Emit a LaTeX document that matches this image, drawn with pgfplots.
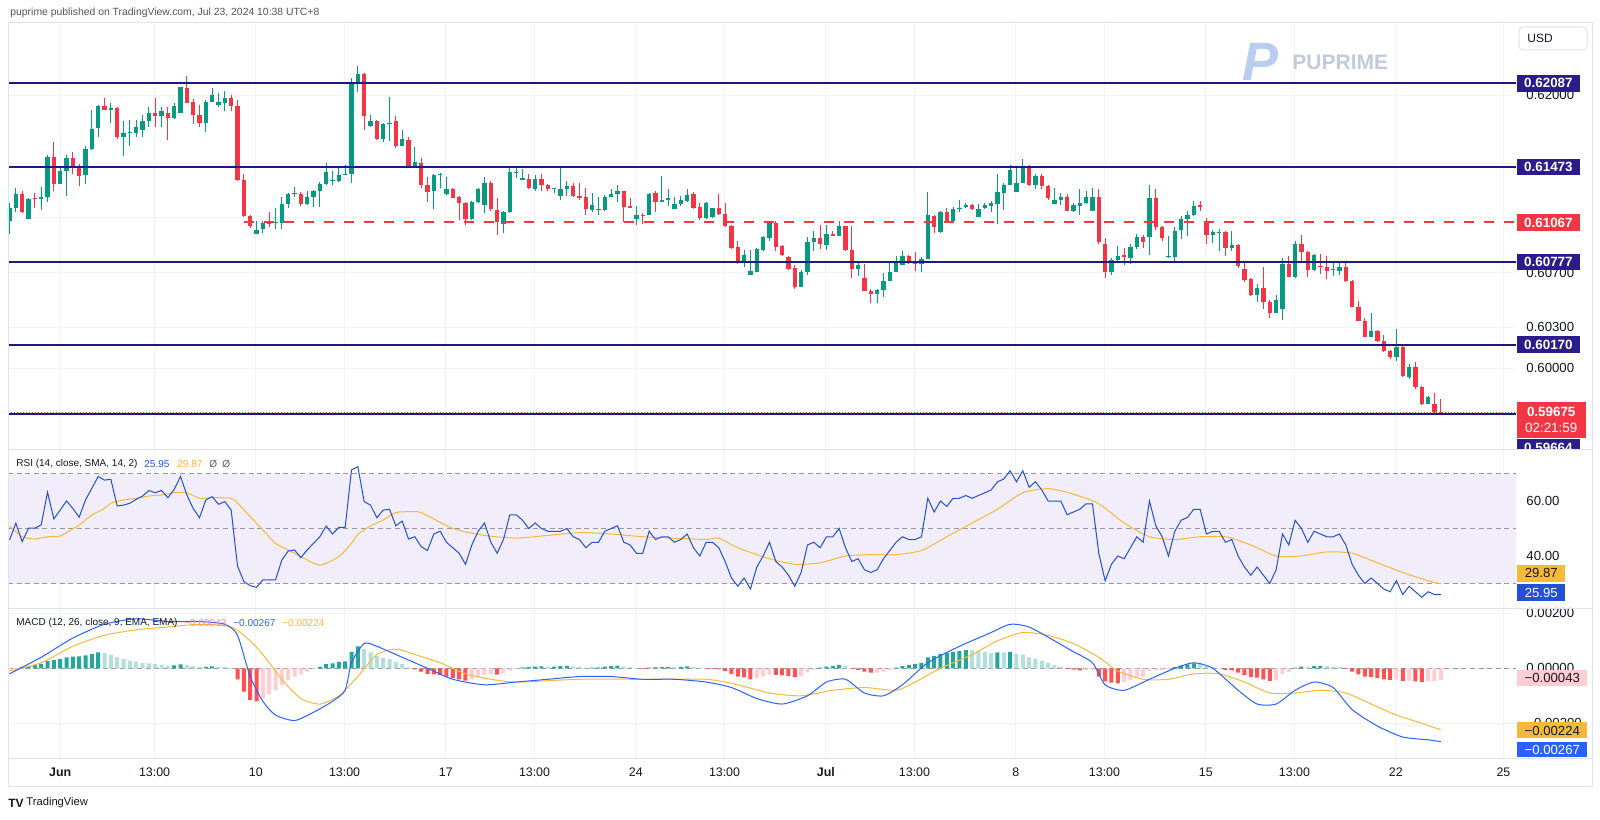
\documentclass[border=0pt]{standalone}
\usepackage{fontspec}
\setmainfont{Liberation Sans}
\usepackage{pgfplots}
\usepackage{pgfplotstable}
\pgfplotsset{compat=1.18}

\definecolor{up}{HTML}{089981}
\definecolor{dn}{HTML}{F23645}
\definecolor{lvl}{HTML}{1C1A7A}
\definecolor{lvlbox}{HTML}{2B1C8C}
\definecolor{gridc}{HTML}{F0F3FA}
\definecolor{sepc}{HTML}{E0E3EB}
\definecolor{txt}{HTML}{131722}
\definecolor{hdr}{HTML}{555555}
\definecolor{band}{HTML}{F1EDFA}
\definecolor{dashc}{HTML}{9598A1}
\definecolor{rsic}{HTML}{2350D6}
\definecolor{mac}{HTML}{2962FF}
\definecolor{sig}{HTML}{F9B938}
\definecolor{hup}{HTML}{26A69A}
\definecolor{hupl}{HTML}{B2DFDB}
\definecolor{hdn}{HTML}{FF5252}
\definecolor{hdnl}{HTML}{FFCDD2}
\definecolor{wmark}{HTML}{C3CAD9}
\definecolor{wicon}{HTML}{B9CDF0}

\newcommand\fs[1]{\fontsize{#1}{#1}\selectfont}

% 4-hour candles, index 0 = first candle on the left
\pgfplotstableread{
i o h l c
0 0.61076 0.61207 0.60984 0.61170
1 0.61170 0.61319 0.61140 0.61276
2 0.61276 0.61294 0.61133 0.61140
3 0.61090 0.61249 0.61090 0.61239
4 0.61244 0.61286 0.61170 0.61239
5 0.61239 0.61324 0.61160 0.61257
6 0.61257 0.61562 0.61219 0.61549
7 0.61549 0.61658 0.61299 0.61348
8 0.61348 0.61475 0.61348 0.61443
9 0.61443 0.61559 0.61264 0.61537
10 0.61537 0.61586 0.61425 0.61467
11 0.61477 0.61492 0.61331 0.61408
12 0.61413 0.61629 0.61348 0.61604
13 0.61604 0.61889 0.61596 0.61753
14 0.61758 0.61931 0.61691 0.61921
15 0.61921 0.61981 0.61889 0.61894
16 0.61894 0.61944 0.61795 0.61909
17 0.61909 0.61914 0.61676 0.61696
18 0.61696 0.61810 0.61554 0.61720
19 0.61720 0.61815 0.61629 0.61723
20 0.61723 0.61815 0.61696 0.61765
21 0.61748 0.61852 0.61696 0.61810
22 0.61807 0.61914 0.61765 0.61869
23 0.61869 0.61981 0.61765 0.61847
24 0.61847 0.61914 0.61765 0.61884
25 0.61872 0.61914 0.61671 0.61834
26 0.61834 0.61944 0.61827 0.61921
27 0.61872 0.62063 0.61872 0.62058
28 0.62050 0.62142 0.61939 0.61946
29 0.61949 0.61973 0.61785 0.61854
30 0.61857 0.61926 0.61770 0.61795
31 0.61795 0.61963 0.61728 0.61953
32 0.61951 0.62055 0.61951 0.62001
33 0.61926 0.62018 0.61914 0.61951
34 0.61944 0.62030 0.61884 0.61978
35 0.61978 0.62001 0.61884 0.61921
36 0.61921 0.61963 0.61368 0.61381
37 0.61381 0.61425 0.61108 0.61115
38 0.61115 0.61125 0.61028 0.61041
39 0.60979 0.61076 0.60979 0.61009
40 0.61021 0.61076 0.60991 0.61066
41 0.61066 0.61145 0.61033 0.61061
42 0.61061 0.61170 0.61021 0.61066
43 0.61066 0.61257 0.61021 0.61200
44 0.61200 0.61281 0.61170 0.61276
45 0.61274 0.61324 0.61257 0.61276
46 0.61276 0.61289 0.61190 0.61200
47 0.61200 0.61294 0.61195 0.61252
48 0.61252 0.61306 0.61177 0.61299
49 0.61299 0.61363 0.61177 0.61348
50 0.61348 0.61500 0.61338 0.61435
51 0.61368 0.61443 0.61338 0.61373
52 0.61368 0.61472 0.61363 0.61418
53 0.61418 0.61487 0.61418 0.61425
54 0.61425 0.62125 0.61356 0.62092
55 0.62087 0.62211 0.62020 0.62154
56 0.62154 0.62162 0.61748 0.61847
57 0.61777 0.61852 0.61765 0.61810
58 0.61810 0.61820 0.61673 0.61678
59 0.61678 0.61795 0.61653 0.61790
60 0.61790 0.61983 0.61666 0.61795
61 0.61807 0.61844 0.61616 0.61629
62 0.61629 0.61745 0.61624 0.61678
63 0.61673 0.61696 0.61475 0.61475
64 0.61475 0.61621 0.61472 0.61510
65 0.61505 0.61541 0.61321 0.61345
66 0.61341 0.61399 0.61216 0.61292
67 0.61301 0.61424 0.61162 0.61412
68 0.61412 0.61426 0.61321 0.61419
69 0.61272 0.61399 0.61267 0.61309
70 0.61309 0.61321 0.61243 0.61247
71 0.61252 0.61260 0.61083 0.61211
72 0.61211 0.61218 0.61051 0.61093
73 0.61093 0.61223 0.61088 0.61216
74 0.61216 0.61321 0.61211 0.61309
75 0.61198 0.61399 0.61137 0.61353
76 0.61358 0.61370 0.61149 0.61162
77 0.61157 0.61243 0.60973 0.61069
78 0.61056 0.61154 0.60990 0.61145
79 0.61145 0.61480 0.61137 0.61436
80 0.61431 0.61480 0.61394 0.61436
81 0.61377 0.61456 0.61375 0.61394
82 0.61382 0.61419 0.61309 0.61321
83 0.61309 0.61412 0.61301 0.61382
84 0.61382 0.61419 0.61301 0.61345
85 0.61345 0.61350 0.61301 0.61309
86 0.61309 0.61321 0.61284 0.61314
87 0.61260 0.61473 0.61235 0.61309
88 0.61309 0.61370 0.61260 0.61333
89 0.61333 0.61358 0.61252 0.61260
90 0.61260 0.61358 0.61235 0.61243
91 0.61255 0.61321 0.61120 0.61162
92 0.61157 0.61284 0.61145 0.61198
93 0.61162 0.61252 0.61120 0.61167
94 0.61157 0.61267 0.61149 0.61255
95 0.61255 0.61309 0.61252 0.61277
96 0.61272 0.61341 0.61218 0.61296
97 0.61296 0.61296 0.61071 0.61181
98 0.61186 0.61247 0.61174 0.61174
99 0.61093 0.61186 0.61051 0.61120
100 0.61125 0.61137 0.61056 0.61120
101 0.61120 0.61284 0.61120 0.61277
102 0.61282 0.61296 0.61142 0.61216
103 0.61216 0.61407 0.61216 0.61235
104 0.61235 0.61309 0.61186 0.61243
105 0.61167 0.61252 0.61162 0.61203
106 0.61203 0.61260 0.61191 0.61228
107 0.61223 0.61309 0.61216 0.61267
108 0.61272 0.61289 0.61169 0.61174
109 0.61179 0.61211 0.61088 0.61096
110 0.61096 0.61218 0.61093 0.61211
111 0.61105 0.61174 0.61100 0.61174
112 0.61174 0.61277 0.61125 0.61130
113 0.61130 0.61211 0.61032 0.61039
114 0.61039 0.61047 0.60875 0.60880
115 0.60885 0.60929 0.60762 0.60782
116 0.60787 0.60868 0.60738 0.60831
117 0.60684 0.60868 0.60684 0.60708
118 0.60704 0.60880 0.60701 0.60873
119 0.60868 0.60966 0.60860 0.60961
120 0.60953 0.61081 0.60934 0.61069
121 0.61064 0.61076 0.60855 0.60885
122 0.60892 0.60904 0.60819 0.60826
123 0.60811 0.60819 0.60721 0.60728
124 0.60733 0.60757 0.60581 0.60591
125 0.60593 0.60721 0.60593 0.60704
126 0.60704 0.60958 0.60684 0.60924
127 0.60922 0.61007 0.60855 0.60953
128 0.60953 0.61051 0.60875 0.60909
129 0.60900 0.61051 0.60868 0.60985
130 0.60985 0.61002 0.60966 0.60971
131 0.60971 0.61076 0.60966 0.61044
132 0.61039 0.61039 0.60855 0.60868
133 0.60868 0.61039 0.60659 0.60726
134 0.60726 0.60782 0.60672 0.60757
135 0.60659 0.60762 0.60561 0.60566
136 0.60561 0.60581 0.60476 0.60542
137 0.60542 0.60581 0.60476 0.60569
138 0.60569 0.60696 0.60517 0.60635
139 0.60635 0.60782 0.60635 0.60704
140 0.60704 0.60819 0.60704 0.60787
141 0.60757 0.60860 0.60753 0.60819
142 0.60819 0.60826 0.60762 0.60770
143 0.60770 0.60851 0.60708 0.60765
144 0.60765 0.60811 0.60704 0.60802
145 0.60802 0.61292 0.60799 0.61120
146 0.61115 0.61125 0.60990 0.61032
147 0.60998 0.61149 0.60990 0.61142
148 0.61142 0.61174 0.61071 0.61076
149 0.61076 0.61179 0.61071 0.61162
150 0.61169 0.61228 0.61142 0.61174
151 0.61179 0.61211 0.61174 0.61198
152 0.61198 0.61203 0.61159 0.61162
153 0.61105 0.61203 0.61105 0.61169
154 0.61174 0.61211 0.61162 0.61198
155 0.61191 0.61223 0.61145 0.61206
156 0.61203 0.61419 0.61059 0.61289
157 0.61284 0.61358 0.61157 0.61345
158 0.61345 0.61488 0.61345 0.61448
159 0.61292 0.61468 0.61292 0.61358
160 0.61358 0.61529 0.61358 0.61478
161 0.61478 0.61488 0.61333 0.61338
162 0.61338 0.61419 0.61309 0.61407
163 0.61407 0.61424 0.61309 0.61333
164 0.61333 0.61338 0.61235 0.61247
165 0.61203 0.61321 0.61203 0.61235
166 0.61233 0.61284 0.61198 0.61252
167 0.61252 0.61272 0.61149 0.61154
168 0.61154 0.61211 0.61145 0.61194
169 0.61191 0.61309 0.61125 0.61211
170 0.61211 0.61301 0.61203 0.61252
171 0.61154 0.61321 0.61154 0.61252
172 0.61252 0.61309 0.60909 0.60922
173 0.60912 0.60953 0.60659 0.60704
174 0.60704 0.60806 0.60679 0.60794
175 0.60794 0.60892 0.60782 0.60824
176 0.60826 0.60880 0.60757 0.60814
177 0.60806 0.60909 0.60762 0.60887
178 0.60885 0.60983 0.60873 0.60958
179 0.60958 0.60978 0.60880 0.60922
180 0.60958 0.61345 0.60831 0.61243
181 0.61247 0.61314 0.61015 0.61032
182 0.61034 0.61039 0.60929 0.60953
183 0.60814 0.60966 0.60806 0.60821
184 0.60811 0.61032 0.60770 0.61007
185 0.61010 0.61112 0.60949 0.61095
186 0.61095 0.61148 0.60971 0.61124
187 0.61119 0.61221 0.61112 0.61185
188 0.61192 0.61221 0.61153 0.61180
189 0.61070 0.61099 0.60910 0.60973
190 0.60973 0.61014 0.60917 0.60997
191 0.60992 0.61022 0.60856 0.60995
192 0.60995 0.61002 0.60820 0.60881
193 0.60876 0.61002 0.60861 0.60905
194 0.60900 0.60910 0.60735 0.60747
195 0.60723 0.60771 0.60633 0.60643
196 0.60650 0.60657 0.60528 0.60536
197 0.60536 0.60618 0.60487 0.60584
198 0.60584 0.60740 0.60431 0.60487
199 0.60487 0.60497 0.60370 0.60400
200 0.60400 0.60536 0.60400 0.60499
201 0.60436 0.60803 0.60351 0.60759
202 0.60759 0.60820 0.60667 0.60669
203 0.60667 0.60929 0.60657 0.60910
204 0.60910 0.60978 0.60771 0.60852
205 0.60852 0.60856 0.60667 0.60718
206 0.60718 0.60837 0.60711 0.60827
207 0.60747 0.60837 0.60686 0.60740
208 0.60742 0.60820 0.60650 0.60711
209 0.60716 0.60788 0.60674 0.60716
210 0.60711 0.60771 0.60682 0.60740
211 0.60740 0.60771 0.60633 0.60638
212 0.60638 0.60643 0.60448 0.60448
213 0.60448 0.60492 0.60341 0.60341
214 0.60341 0.60366 0.60230 0.60230
215 0.60230 0.60400 0.60225 0.60268
216 0.60268 0.60278 0.60188 0.60196
217 0.60196 0.60244 0.60115 0.60123
218 0.60127 0.60132 0.60067 0.60084
219 0.60079 0.60285 0.60055 0.60152
220 0.60152 0.60176 0.59933 0.59938
221 0.59933 0.60030 0.59921 0.60011
222 0.60006 0.60047 0.59848 0.59860
223 0.59860 0.59865 0.59727 0.59739
224 0.59739 0.59792 0.59734 0.59787
225 0.59734 0.59816 0.59673 0.59678
226 0.59678 0.59775 0.59666 0.59675
}\candles

\pgfplotstableread{
i r
0 45.8
1 51.9
2 45.2
3 50.1
4 50.1
5 51.3
6 63.2
7 53.5
8 56.7
9 60.0
10 57.3
11 54.1
12 60.4
13 64.6
14 68.9
15 67.6
16 67.9
17 58.2
18 58.5
19 59.2
20 60.6
21 61.8
22 63.8
23 63.0
24 63.8
25 61.2
26 64.2
27 68.9
28 62.2
29 57.3
30 53.9
31 60.4
32 61.6
33 58.8
34 59.8
35 56.7
36 36.4
37 30.7
38 29.2
39 28.6
40 31.3
41 31.3
42 31.3
43 38.5
44 41.8
45 42.2
46 39.4
47 42.2
48 44.6
49 47.0
50 50.9
51 48.0
52 50.4
53 50.4
54 71.3
55 72.5
56 59.8
57 58.5
58 53.9
59 56.7
60 57.0
61 51.0
62 52.7
63 46.2
64 47.0
65 43.4
66 42
67 48
68 49
69 45
70 43
71 41
72 37
73 44
74 49
75 52
76 45
77 41
78 46
79 55
80 55
81 53
82 50
83 52
84 50
85 49
86 49
87 49
88 50
89 47
90 46
91 43
92 45
93 45
94 49
95 50
96 51
97 45
98 44
99 41
100 41
101 49
102 46
103 47
104 47
105 45
106 46
107 48
108 43
109 40
110 45
111 45
112 43
113 38
114 32
115 29
116 32
117 28
118 36
119 40
120 45
121 38
122 36
123 33
124 29
125 34
126 44
127 45
128 43
129 47
130 47
131 50
132 43
133 38
134 39
135 35
136 34
137 35
138 39
139 42
140 45
141 47
142 46
143 46
144 47
145 61
146 56
147 60
148 58
149 61
150 61
151 62
152 61
153 62
154 63
155 64
156 67
157 68
158 71
159 67
160 71
161 65
162 67
163 64
164 60
165 60
166 60
167 55
168 56
169 57
170 59
171 59
172 41
173 31
174 37
175 40
176 39
177 43
178 47
179 45
180 60
181 51
182 47
183 40
184 49
185 53
186 54
187 57
188 57
189 48
190 49
191 49
192 45
193 46
194 40
195 36
196 33
197 36
198 33
199 30
200 35
201 48
202 44
203 53
204 50
205 45
206 49
207 48
208 47
209 47
210 48
211 44
212 37
213 33
214 30
215 32
216 30
217 28
218 27
219 31
220 26
221 29
222 27
223 25
224 27
225 26
226 25.95
}\rsi

\pgfplotstableread{
i m
0 50.9
2 47.0
4 46.2
6 47.0
8 47.3
11 51.3
13 54.9
15 57.3
16 59.2
18 60.4
20 61.0
22 61.8
24 62.2
26 63.0
28 63.0
30 61.0
32 61.2
35 61.0
36 59.2
38 54.3
40 49.5
42 44.6
44 42.2
46 39.8
49 36.7
52 39.8
54 44.6
55 47.9
57 50.9
59 53.1
61 55.8
63 56.1
65 55.8
70 50
75 47.5
80 46.5
85 47.5
90 48.5
95 48
100 47
105 46.5
110 46
112 46.5
115 43
120 39
124 37
128 37.5
132 40
136 40.5
140 40.5
144 42
148 47
152 52
156 57
160 63
164 64.5
168 62.5
172 59
176 52
180 47
184 46
188 47
192 47
196 44
200 40
204 40
208 41.5
212 41
216 37.5
220 34
224 31
226 29.87
}\rsima

\pgfplotstableread{
i m
0 -0.0002
5 0.0004
10 0.0011
15 0.0016
20 0.0018
25 0.0017
30 0.0017
34 0.0016
36 0.0012
38 -0.0003
40 -0.0012
42 -0.0017
45 -0.0019
48 -0.0016
51 -0.0012
53 -0.0008
54 0.0002
56 0.0009
58 0.0008
62 0.0004
66 0.0000
70 -0.0004
75 -0.0006
80 -0.0005
85 -0.0004
90 -0.0003
95 -0.0003
100 -0.0004
105 -0.0004
110 -0.0005
114 -0.0007
118 -0.0011
122 -0.0013
126 -0.0010
129 -0.0005
132 -0.0004
135 -0.0009
138 -0.0010
141 -0.0006
145 0.0002
150 0.0008
155 0.0013
158 0.0016
161 0.0015
165 0.0010
168 0.0006
171 0.0002
173 -0.0006
176 -0.0008
180 -0.0004
184 0.0000
187 0.0002
190 0.0000
194 -0.0008
197 -0.0013
200 -0.0013
203 -0.0008
206 -0.0005
209 -0.0007
212 -0.0015
216 -0.0021
220 -0.0025
224 -0.0026
226 -0.00267
}\macd

\pgfplotstableread{
i s
0 -0.0001
5 0.0002
10 0.0008
15 0.0012
20 0.0014
25 0.0015
30 0.0016
35 0.0015
38 0.0010
40 0.0005
43 -0.0004
46 -0.0011
49 -0.0013
52 -0.0010
55 -0.0003
58 0.0005
61 0.0007
64 0.0005
68 0.0002
72 -0.0002
76 -0.0004
80 -0.0005
90 -0.0004
100 -0.0004
110 -0.0004
115 -0.0006
120 -0.0009
125 -0.0010
130 -0.0008
135 -0.0007
140 -0.0008
143 -0.0005
147 0.0000
152 0.0005
156 0.0010
160 0.0013
164 0.0012
168 0.0009
172 0.0004
175 -0.0001
179 -0.0004
183 -0.0004
187 -0.0002
191 -0.0002
195 -0.0005
199 -0.0009
203 -0.0009
207 -0.0008
211 -0.0009
215 -0.0013
219 -0.0017
223 -0.0020
226 -0.00224
}\signal

% histogram: k = 0 rising above zero, 1 falling above zero, 2 falling below zero, 3 rising below zero
\pgfplotstableread{
i v k
0 -0.00005 3
1 -0.00002 3
2 0.00004 0
3 0.00008 0
4 0.00012 0
5 0.00016 0
6 0.00026 0
7 0.00030 0
8 0.00034 0
9 0.00040 0
10 0.00042 0
11 0.00043 0
12 0.00047 0
13 0.00052 0
14 0.00058 0
15 0.00055 1
16 0.00050 1
17 0.00040 1
18 0.00033 1
19 0.00028 1
20 0.00024 1
21 0.00020 1
22 0.00018 1
23 0.00015 1
24 0.00013 1
25 0.00010 1
26 0.00011 0
27 0.00014 0
28 0.00012 1
29 0.00008 1
30 0.00004 1
31 0.00005 0
32 0.00007 0
33 0.00006 1
34 0.00005 1
35 0.00001 1
36 -0.00040 2
37 -0.00085 2
38 -0.00115 2
39 -0.00120 2
40 -0.00110 3
41 -0.00095 3
42 -0.00080 3
43 -0.00060 3
44 -0.00042 3
45 -0.00030 3
46 -0.00022 3
47 -0.00012 3
48 -0.00003 3
49 0.00005 0
50 0.00015 0
51 0.00018 0
52 0.00022 0
53 0.00025 0
54 0.00060 0
55 0.00080 0
56 0.00070 1
57 0.00058 1
58 0.00045 1
59 0.00038 1
60 0.00033 1
61 0.00022 1
62 0.00015 1
63 0.00003 1
64 -0.00004 2
65 -0.00012 2
66 -0.00020 2
67 -0.00022 2
68 -0.00025 2
69 -0.00030 2
70 -0.00035 2
71 -0.00040 2
72 -0.00045 2
73 -0.00040 3
74 -0.00032 3
75 -0.00024 3
76 -0.00022 3
77 -0.00023 2
78 -0.00018 3
79 -0.00008 3
80 -0.00002 3
81 0.00003 0
82 0.00004 0
83 0.00006 0
84 0.00007 0
85 0.00006 1
86 0.00006 0
87 0.00008 0
88 0.00009 0
89 0.00007 1
90 0.00005 1
91 0.00002 1
92 0.00002 0
93 0.00003 0
94 0.00006 0
95 0.00008 0
96 0.00010 0
97 0.00006 1
98 0.00004 1
99 0.00001 1
100 -0.00003 2
101 0.00002 0
102 0.00003 0
103 0.00004 0
104 0.00005 0
105 0.00005 1
106 0.00005 0
107 0.00007 0
108 0.00004 1
109 0.00001 1
110 -0.00001 2
111 -0.00002 2
112 -0.00004 2
113 -0.00010 2
114 -0.00020 2
115 -0.00030 2
116 -0.00033 2
117 -0.00040 2
118 -0.00035 3
119 -0.00030 3
120 -0.00022 3
121 -0.00024 2
122 -0.00026 2
123 -0.00028 2
124 -0.00032 2
125 -0.00028 3
126 -0.00015 3
127 -0.00005 3
128 0.00002 0
129 0.00006 0
130 0.00008 0
131 0.00012 0
132 0.00008 1
133 -0.00002 2
134 -0.00006 2
135 -0.00012 2
136 -0.00016 2
137 -0.00016 3
138 -0.00012 3
139 -0.00006 3
140 0.00002 0
141 0.00008 0
142 0.00012 0
143 0.00016 0
144 0.00020 0
145 0.00040 0
146 0.00045 0
147 0.00052 0
148 0.00055 0
149 0.00060 0
150 0.00063 0
151 0.00066 0
152 0.00066 1
153 0.00064 1
154 0.00060 1
155 0.00056 1
156 0.00058 0
157 0.00058 1
158 0.00060 0
159 0.00052 1
160 0.00050 1
161 0.00040 1
162 0.00035 1
163 0.00028 1
164 0.00020 1
165 0.00012 1
166 0.00006 1
167 -0.00002 2
168 -0.00005 2
169 -0.00008 2
170 -0.00008 3
171 -0.00006 3
172 -0.00030 2
173 -0.00048 2
174 -0.00052 2
175 -0.00055 2
176 -0.00050 3
177 -0.00042 3
178 -0.00034 3
179 -0.00030 3
180 -0.00010 3
181 -0.00008 3
182 -0.00006 3
183 -0.00004 3
184 0.00004 0
185 0.00010 0
186 0.00014 0
187 0.00018 0
188 0.00016 1
189 0.00008 1
190 0.00004 1
191 0.00001 1
192 -0.00006 2
193 -0.00008 2
194 -0.00016 2
195 -0.00024 2
196 -0.00032 2
197 -0.00034 2
198 -0.00040 2
199 -0.00046 2
200 -0.00044 3
201 -0.00020 3
202 -0.00014 3
203 0.00002 0
204 0.00006 0
205 0.00005 1
206 0.00008 0
207 0.00009 0
208 0.00008 1
209 0.00006 1
210 0.00005 1
211 -0.00002 2
212 -0.00012 2
213 -0.00022 2
214 -0.00030 2
215 -0.00032 2
216 -0.00036 2
217 -0.00040 2
218 -0.00042 2
219 -0.00040 3
220 -0.00046 2
221 -0.00045 3
222 -0.00048 2
223 -0.00050 2
224 -0.00048 3
225 -0.00046 3
226 -0.00043 3
}\hist

\pgfplotsset{
  pane/.style={
    scale only axis, anchor=south west, width=754pt,
    xmin=-0.24, xmax=237.88,
    axis line style={draw=none}, major tick length=0pt, tick style={draw=none},
    xtick={8.0,22.9,38.9,52.9,68.9,82.9,98.9,112.9,128.9,142.9,158.9,172.9,188.9,202.9,218.9,235.9},
    xticklabels={},
    xmajorgrids, ymajorgrids,
    major grid style={draw=gridc, line width=0.5pt},
    yticklabel pos=right,
    yticklabel style={anchor=west, inner sep=0pt, xshift=5pt, text=txt, font=\fs{6.6}},
    scaled y ticks=false,
  },
  wick/.style={forget plot, line width=0.5pt, line cap=butt},
  body/.style={forget plot, line width=2.2pt, line cap=butt},
}

\begin{document}
\begin{tikzpicture}
\useasboundingbox (0,0) rectangle (800pt,409.5pt);
\fill[white] (0,0) rectangle (800pt,409.5pt);

% ---------------- price pane ----------------
\begin{axis}[pane, at={(4pt,184.5pt)}, height=213.5pt,
  ymin=0.59399, ymax=0.62529,
  ytick={0.600,0.603,0.607,0.611,0.615,0.620},
  yticklabels={0.60000,0.60300,0.60700,,,0.62000}]
\addplot[wick, up, quiver={u=0, v=\thisrow{h}-\thisrow{l}},
  restrict expr to domain={\thisrow{c}-\thisrow{o}}{0:1}] table[x=i, y=l]{\candles};
\addplot[wick, dn, quiver={u=0, v=\thisrow{h}-\thisrow{l}},
  restrict expr to domain={\thisrow{c}-\thisrow{o}}{-1:-0.000000001}] table[x=i, y=l]{\candles};
\addplot[body, up, quiver={u=0, v={max(\thisrow{c}-\thisrow{o},0.00007)}},
  restrict expr to domain={\thisrow{c}-\thisrow{o}}{0:1}] table[x=i, y=o]{\candles};
\addplot[body, dn, quiver={u=0, v={min(\thisrow{c}-\thisrow{o},-0.00007)}},
  restrict expr to domain={\thisrow{c}-\thisrow{o}}{-1:-0.000000001}] table[x=i, y=o]{\candles};
% drawn levels
\addplot[lvl, line width=1pt] coordinates {(-0.24,0.62087) (237.88,0.62087)};
\addplot[lvl, line width=1pt] coordinates {(-0.24,0.61473) (237.88,0.61473)};
\addplot[lvl, line width=1pt] coordinates {(-0.24,0.60777) (237.88,0.60777)};
\addplot[lvl, line width=1pt] coordinates {(-0.24,0.60170) (237.88,0.60170)};
\addplot[lvl, line width=1pt] coordinates {(-0.24,0.59664) (237.88,0.59664)};
\addplot[dn, line width=1pt, dash pattern=on 5pt off 5pt] coordinates {(37,0.61067) (237.88,0.61067)};
\addplot[dn, line width=0.6pt, dash pattern=on 0.5pt off 1pt] coordinates {(-0.24,0.59675) (237.88,0.59675)};
\end{axis}

% price scale labels of the levels
\tikzset{lb/.style={anchor=west, inner sep=0pt, minimum width=31.3pt, minimum height=8.4pt,
  font=\bfseries\fs{6.7}, text=white, fill=lvlbox}}
\node[lb] at (758.35pt,367.85pt) {0.62087};
\node[lb] at (758.35pt,325.97pt) {0.61473};
\node[lb, fill=dn] at (758.35pt,298.27pt) {0.61067};
\node[lb] at (758.35pt,278.49pt) {0.60777};
\node[lb] at (758.35pt,237.09pt) {0.60170};
\begin{scope}
\clip (758pt,184.5pt) rectangle (796pt,200pt);
\node[lb] at (758.35pt,185.65pt) {0.59664};
\end{scope}
\fill[dn] (758.35pt,190.35pt) rectangle (792.85pt,208.35pt);
\node[font=\bfseries\fs{6.7}, text=white, inner sep=0pt] at (775.6pt,203.35pt) {0.59675};
\node[font=\fs{6.7}, text=white, inner sep=0pt] at (775.6pt,195.65pt) {02:21:59};

% ---------------- RSI pane ----------------
\begin{axis}[pane, at={(4pt,105pt)}, height=79.5pt,
  ymin=20.73, ymax=78.55, ytick={40,60}, yticklabels={40.00,60.00}]
\addplot[fill=band, draw=none, forget plot] coordinates {(-0.24,30) (237.88,30) (237.88,70) (-0.24,70)};
\addplot[dashc, line width=0.5pt, dash pattern=on 2.5pt off 1.8pt] coordinates {(-0.24,70) (237.88,70)};
\addplot[dashc, line width=0.5pt, dash pattern=on 2.5pt off 1.8pt] coordinates {(-0.24,50) (237.88,50)};
\addplot[dashc, line width=0.5pt, dash pattern=on 2.5pt off 1.8pt] coordinates {(-0.24,30) (237.88,30)};
\addplot[sig, line width=0.5pt, smooth, tension=0.4] table[x=i, y=m]{\rsima};
\addplot[rsic, line width=0.5pt] table[x=i, y=r]{\rsi};
\end{axis}
\node[anchor=west, inner sep=0pt, font=\fs{5}, text=txt] at (8pt,177.5pt) {RSI (14, close, SMA, 14, 2)};
\node[anchor=west, inner sep=0pt, font=\fs{5}, text=rsic] at (72pt,177.5pt) {25.95};
\node[anchor=west, inner sep=0pt, font=\fs{5}, text=sig] at (88.5pt,177.5pt) {29.87};
\node[anchor=west, inner sep=0pt, font=\fs{5}, text=txt!70] at (104.5pt,177.5pt) {Ø};
\node[anchor=west, inner sep=0pt, font=\fs{5}, text=txt!70] at (111pt,177.5pt) {Ø};
\node[anchor=west, inner sep=0pt, minimum width=24.15pt, minimum height=8.3pt, fill=sig, text=txt, font=\fs{6.6}] at (758.35pt,122.85pt) {29.87};
\node[anchor=west, inner sep=0pt, minimum width=24.15pt, minimum height=8.3pt, fill=rsic, text=white, font=\fs{6.6}] at (758.35pt,113.1pt) {25.95};

% ---------------- MACD pane ----------------
\begin{axis}[pane, at={(4pt,30.5pt)}, height=74.5pt,
  ymin=-0.003262, ymax=0.002156, ytick={-0.002,0,0.002},
  yticklabels={−0.00200,0.00000,0.00200},
  xticklabels={\textbf{Jun},13:00,10,13:00,17,13:00,24,13:00,\textbf{Jul},13:00,8,13:00,15,13:00,22,25},
  xticklabel style={anchor=center, yshift=-7pt, text=txt, font=\fs{6.2}}]
\addplot[dashc, line width=0.5pt, dash pattern=on 2.5pt off 1.8pt, forget plot] coordinates {(-0.24,0) (237.88,0)};
\addplot[ybar, bar width=2pt, bar shift=0pt, fill=hup, draw=none,
  restrict expr to domain={\thisrow{k}}{-0.5:0.5}] table[x=i, y=v]{\hist};
\addplot[ybar, bar width=2pt, bar shift=0pt, fill=hupl, draw=none,
  restrict expr to domain={\thisrow{k}}{0.5:1.5}] table[x=i, y=v]{\hist};
\addplot[ybar, bar width=2pt, bar shift=0pt, fill=hdn, draw=none,
  restrict expr to domain={\thisrow{k}}{1.5:2.5}] table[x=i, y=v]{\hist};
\addplot[ybar, bar width=2pt, bar shift=0pt, fill=hdnl, draw=none,
  restrict expr to domain={\thisrow{k}}{2.5:3.5}] table[x=i, y=v]{\hist};
\addplot[sig, line width=0.5pt, smooth, tension=0.4] table[x=i, y=s]{\signal};
\addplot[mac, line width=0.5pt, smooth, tension=0.4] table[x=i, y=m]{\macd};
\end{axis}
\node[anchor=west, inner sep=0pt, font=\fs{5}, text=txt] at (8pt,98.15pt) {MACD (12, 26, close, 9, EMA, EMA)};
\node[anchor=west, inner sep=0pt, font=\fs{5}, text=hdnl!55!dn] at (92pt,98.15pt) {−0.00043};
\node[anchor=west, inner sep=0pt, font=\fs{5}, text=mac] at (116.5pt,98.15pt) {−0.00267};
\node[anchor=west, inner sep=0pt, font=\fs{5}, text=sig] at (141pt,98.15pt) {−0.00224};
\node[anchor=west, inner sep=0pt, minimum width=35.15pt, minimum height=7.6pt, fill=hdnl, text=txt, font=\fs{6.6}] at (758.35pt,70.5pt) {−0.00043};
\node[anchor=west, inner sep=0pt, minimum width=35.15pt, minimum height=8pt, fill=sig, text=txt, font=\fs{6.6}] at (758.35pt,44.25pt) {−0.00224};
\node[anchor=west, inner sep=0pt, minimum width=35.15pt, minimum height=7.6pt, fill=mac, text=white, font=\fs{6.6}] at (758.35pt,34.65pt) {−0.00267};

% ---------------- frame, separators, texts ----------------
\draw[sepc, line width=0.5pt] (4pt,16.5pt) rectangle (796pt,398pt);
\draw[sepc, line width=0.5pt] (4pt,184.5pt) -- (796pt,184.5pt);
\draw[sepc, line width=0.5pt] (4pt,105pt) -- (796pt,105pt);
\draw[sepc, line width=0.5pt] (4pt,30.5pt) -- (796pt,30.5pt);
\node[anchor=west, inner sep=0pt, font=\fs{5.2}, text=hdr] at (5pt,403pt) {puprime published on TradingView.com, Jul 23, 2024 10:38 UTC+8};
\draw[sepc, line width=0.5pt, rounded corners=2pt, fill=white] (759.5pt,384.5pt) rectangle (793.5pt,396pt);
\node[anchor=west, inner sep=0pt, font=\fs{6}, text=txt] at (763.5pt,390.25pt) {USD};
\node[anchor=west, inner sep=0pt, font=\bfseries\itshape\fs{27}, text=wicon] at (621pt,378.5pt) {P};
\node[anchor=west, inner sep=0pt, font=\bfseries\fs{10.5}, text=wmark] at (646pt,378.5pt) {PUPRIME};
\node[anchor=west, inner sep=0pt, font=\bfseries\fs{6}, text=txt] at (4pt,8pt) {TV};
\node[anchor=west, inner sep=0pt, font=\fs{5.6}, text=txt] at (13pt,8pt) {TradingView};
\end{tikzpicture}
\end{document}
